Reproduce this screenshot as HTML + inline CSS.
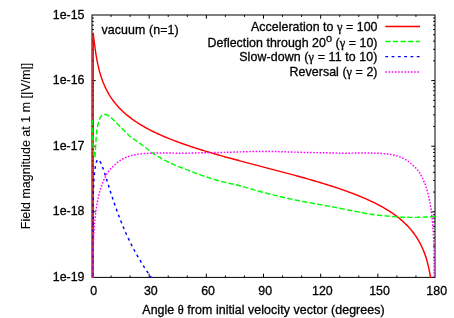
<!DOCTYPE html>
<html><head><meta charset="utf-8"><title>plot</title>
<style>
html,body{margin:0;padding:0;background:#fff;}
svg{display:block;will-change:transform;filter:blur(0.3px);}
text{font-family:"Liberation Sans",sans-serif;font-size:12.4px;fill:#000;stroke:#000;stroke-width:0.3px;}
.sy{font-family:"Liberation Serif",serif;}
.c{fill:none;stroke-width:1.45;stroke-linejoin:round;}
</style></head><body>
<svg width="454" height="318" viewBox="0 0 454 318">
<rect width="454" height="318" fill="#fff"/>
<defs><clipPath id="cp"><rect x="91.5" y="14.5" width="344.0" height="263.4"/></clipPath></defs>
<g stroke="#000" stroke-width="1" fill="none">
<rect x="92.0" y="15.0" width="343.0" height="262.4"/>
<path d="M92.0,60.85h1.9M435.0,60.85h-1.9"/>
<path d="M92.0,49.30h1.9M435.0,49.30h-1.9"/>
<path d="M92.0,41.10h1.9M435.0,41.10h-1.9"/>
<path d="M92.0,34.75h1.9M435.0,34.75h-1.9"/>
<path d="M92.0,29.55h1.9M435.0,29.55h-1.9"/>
<path d="M92.0,25.16h1.9M435.0,25.16h-1.9"/>
<path d="M92.0,21.36h1.9M435.0,21.36h-1.9"/>
<path d="M92.0,18.00h1.9M435.0,18.00h-1.9"/>
<path d="M92.0,80.60h3.7M435.0,80.60h-3.7"/>
<path d="M92.0,126.45h1.9M435.0,126.45h-1.9"/>
<path d="M92.0,114.90h1.9M435.0,114.90h-1.9"/>
<path d="M92.0,106.70h1.9M435.0,106.70h-1.9"/>
<path d="M92.0,100.35h1.9M435.0,100.35h-1.9"/>
<path d="M92.0,95.15h1.9M435.0,95.15h-1.9"/>
<path d="M92.0,90.76h1.9M435.0,90.76h-1.9"/>
<path d="M92.0,86.96h1.9M435.0,86.96h-1.9"/>
<path d="M92.0,83.60h1.9M435.0,83.60h-1.9"/>
<path d="M92.0,146.20h3.7M435.0,146.20h-3.7"/>
<path d="M92.0,192.05h1.9M435.0,192.05h-1.9"/>
<path d="M92.0,180.50h1.9M435.0,180.50h-1.9"/>
<path d="M92.0,172.30h1.9M435.0,172.30h-1.9"/>
<path d="M92.0,165.95h1.9M435.0,165.95h-1.9"/>
<path d="M92.0,160.75h1.9M435.0,160.75h-1.9"/>
<path d="M92.0,156.36h1.9M435.0,156.36h-1.9"/>
<path d="M92.0,152.56h1.9M435.0,152.56h-1.9"/>
<path d="M92.0,149.20h1.9M435.0,149.20h-1.9"/>
<path d="M92.0,211.80h3.7M435.0,211.80h-3.7"/>
<path d="M92.0,257.65h1.9M435.0,257.65h-1.9"/>
<path d="M92.0,246.10h1.9M435.0,246.10h-1.9"/>
<path d="M92.0,237.90h1.9M435.0,237.90h-1.9"/>
<path d="M92.0,231.55h1.9M435.0,231.55h-1.9"/>
<path d="M92.0,226.35h1.9M435.0,226.35h-1.9"/>
<path d="M92.0,221.96h1.9M435.0,221.96h-1.9"/>
<path d="M92.0,218.16h1.9M435.0,218.16h-1.9"/>
<path d="M92.0,214.80h1.9M435.0,214.80h-1.9"/>
<path d="M111.06,277.4v-1.9M111.06,15.0v1.9"/>
<path d="M130.11,277.4v-1.9M130.11,15.0v1.9"/>
<path d="M149.17,277.4v-3.7M149.17,15.0v3.7"/>
<path d="M168.22,277.4v-1.9M168.22,15.0v1.9"/>
<path d="M187.28,277.4v-1.9M187.28,15.0v1.9"/>
<path d="M206.33,277.4v-3.7M206.33,15.0v3.7"/>
<path d="M225.39,277.4v-1.9M225.39,15.0v1.9"/>
<path d="M244.44,277.4v-1.9M244.44,15.0v1.9"/>
<path d="M263.50,277.4v-3.7M263.50,15.0v3.7"/>
<path d="M282.56,277.4v-1.9M282.56,15.0v1.9"/>
<path d="M301.61,277.4v-1.9M301.61,15.0v1.9"/>
<path d="M320.67,277.4v-3.7M320.67,15.0v3.7"/>
<path d="M339.72,277.4v-1.9M339.72,15.0v1.9"/>
<path d="M358.78,277.4v-1.9M358.78,15.0v1.9"/>
<path d="M377.83,277.4v-3.7M377.83,15.0v3.7"/>
<path d="M396.89,277.4v-1.9M396.89,15.0v1.9"/>
<path d="M415.94,277.4v-1.9M415.94,15.0v1.9"/>
</g>
<g clip-path="url(#cp)">
<path class="c" stroke="#f00" d="M93.12,307.40 L93.20,33.30 L94.01,40.10 L94.96,47.45 L95.91,54.01 L96.86,59.58 L97.82,64.34 L98.77,68.47 L99.72,72.10 L100.67,75.34 L101.63,78.25 L102.58,80.91 L103.53,83.34 L104.49,85.59 L105.44,87.68 L106.39,89.62 L107.34,91.45 L108.30,93.16 L109.25,94.78 L110.20,96.32 L111.16,97.78 L112.11,99.17 L113.06,100.49 L114.01,101.76 L114.97,102.98 L115.92,104.14 L116.87,105.27 L117.82,106.35 L118.78,107.39 L119.73,108.40 L120.68,109.37 L121.64,110.31 L122.59,111.23 L123.54,112.11 L124.49,112.97 L125.45,113.81 L126.40,114.62 L127.35,115.42 L128.31,116.19 L129.26,116.94 L130.21,117.67 L131.16,118.39 L132.12,119.09 L133.07,119.78 L134.02,120.45 L134.97,121.10 L135.93,121.75 L136.88,122.37 L137.83,122.99 L138.79,123.60 L139.74,124.19 L140.69,124.77 L141.64,125.34 L142.60,125.91 L143.55,126.46 L144.50,127.00 L145.46,127.53 L146.41,128.06 L147.36,128.57 L148.31,129.08 L149.27,129.58 L150.22,130.08 L151.17,130.56 L152.12,131.04 L153.08,131.51 L154.03,131.98 L154.98,132.44 L155.94,132.89 L156.89,133.34 L157.84,133.78 L158.79,134.22 L159.75,134.65 L160.70,135.07 L161.65,135.49 L162.61,135.91 L163.56,136.32 L164.51,136.72 L165.46,137.13 L166.42,137.52 L167.37,137.92 L168.32,138.30 L169.27,138.69 L170.23,139.07 L171.18,139.45 L172.13,139.82 L173.09,140.19 L174.04,140.56 L174.99,140.92 L175.94,141.28 L176.90,141.63 L177.85,141.99 L178.80,142.34 L179.76,142.68 L180.71,143.03 L181.66,143.37 L182.61,143.71 L183.57,144.04 L184.52,144.38 L185.47,144.71 L186.42,145.04 L187.38,145.36 L188.33,145.68 L189.28,146.01 L190.24,146.32 L191.19,146.64 L192.14,146.96 L193.09,147.27 L194.05,147.58 L195.00,147.89 L195.95,148.19 L196.91,148.50 L197.86,148.80 L198.81,149.10 L199.76,149.40 L200.72,149.70 L201.67,149.99 L202.62,150.29 L203.57,150.58 L204.53,150.87 L205.48,151.16 L206.43,151.45 L207.39,151.73 L208.34,152.02 L209.29,152.30 L210.24,152.58 L211.20,152.86 L212.15,153.14 L213.10,153.42 L214.06,153.70 L215.01,153.98 L215.96,154.25 L216.91,154.52 L217.87,154.80 L218.82,155.07 L219.77,155.34 L220.72,155.61 L221.68,155.88 L222.63,156.14 L223.58,156.41 L224.54,156.68 L225.49,156.94 L226.44,157.21 L227.39,157.47 L228.35,157.73 L229.30,157.99 L230.25,158.25 L231.21,158.51 L232.16,158.77 L233.11,159.03 L234.06,159.29 L235.02,159.55 L235.97,159.81 L236.92,160.06 L237.88,160.32 L238.83,160.57 L239.78,160.83 L240.73,161.08 L241.69,161.34 L242.64,161.59 L243.59,161.84 L244.54,162.10 L245.50,162.35 L246.45,162.60 L247.40,162.85 L248.36,163.10 L249.31,163.35 L250.26,163.61 L251.21,163.86 L252.17,164.11 L253.12,164.36 L254.07,164.60 L255.02,164.85 L255.98,165.10 L256.93,165.35 L257.88,165.60 L258.84,165.85 L259.79,166.10 L260.74,166.35 L261.69,166.60 L262.65,166.85 L263.60,167.09 L264.55,167.34 L265.51,167.59 L266.46,167.84 L267.41,168.09 L268.36,168.34 L269.32,168.59 L270.27,168.84 L271.22,169.08 L272.17,169.33 L273.13,169.58 L274.08,169.83 L275.03,170.08 L275.99,170.33 L276.94,170.58 L277.89,170.83 L278.84,171.08 L279.80,171.34 L280.75,171.59 L281.70,171.84 L282.66,172.09 L283.61,172.34 L284.56,172.60 L285.51,172.85 L286.47,173.10 L287.42,173.36 L288.37,173.61 L289.32,173.87 L290.28,174.13 L291.23,174.38 L292.18,174.64 L293.14,174.90 L294.09,175.16 L295.04,175.41 L295.99,175.67 L296.95,175.93 L297.90,176.20 L298.85,176.46 L299.81,176.72 L300.76,176.98 L301.71,177.25 L302.66,177.51 L303.62,177.78 L304.57,178.04 L305.52,178.31 L306.48,178.58 L307.43,178.85 L308.38,179.12 L309.33,179.39 L310.29,179.67 L311.24,179.94 L312.19,180.21 L313.14,180.49 L314.10,180.77 L315.05,181.05 L316.00,181.33 L316.96,181.61 L317.91,181.89 L318.86,182.17 L319.81,182.46 L320.77,182.74 L321.72,183.03 L322.67,183.32 L323.62,183.61 L324.58,183.90 L325.53,184.20 L326.48,184.49 L327.44,184.79 L328.39,185.09 L329.34,185.39 L330.29,185.69 L331.25,186.00 L332.20,186.30 L333.15,186.61 L334.11,186.92 L335.06,187.23 L336.01,187.55 L336.96,187.87 L337.92,188.18 L338.87,188.51 L339.82,188.83 L340.77,189.15 L341.73,189.48 L342.68,189.81 L343.63,190.15 L344.59,190.48 L345.54,190.82 L346.49,191.16 L347.44,191.51 L348.40,191.85 L349.35,192.20 L350.30,192.56 L351.26,192.91 L352.21,193.27 L353.16,193.64 L354.11,194.00 L355.07,194.37 L356.02,194.74 L356.97,195.12 L357.92,195.50 L358.88,195.89 L359.83,196.28 L360.78,196.67 L361.74,197.07 L362.69,197.47 L363.64,197.87 L364.59,198.29 L365.55,198.70 L366.50,199.12 L367.45,199.55 L368.41,199.98 L369.36,200.41 L370.31,200.86 L371.26,201.30 L372.22,201.76 L373.17,202.22 L374.12,202.68 L375.07,203.15 L376.03,203.63 L376.98,204.12 L377.93,204.61 L378.89,205.11 L379.84,205.62 L380.79,206.14 L381.74,206.67 L382.70,207.20 L383.65,207.74 L384.60,208.29 L385.56,208.86 L386.51,209.43 L387.46,210.01 L388.41,210.61 L389.37,211.21 L390.32,211.83 L391.27,212.46 L392.23,213.10 L393.18,213.76 L394.13,214.43 L395.08,215.11 L396.04,215.82 L396.99,216.53 L397.94,217.27 L398.89,218.02 L399.85,218.80 L400.80,219.59 L401.75,220.41 L402.71,221.25 L403.66,222.11 L404.61,223.00 L405.56,223.91 L406.52,224.86 L407.47,225.84 L408.42,226.85 L409.38,227.89 L410.33,228.98 L411.28,230.10 L412.23,231.28 L413.19,232.50 L414.14,233.77 L415.09,235.10 L416.04,236.50 L417.00,237.97 L417.95,239.52 L418.90,241.15 L419.86,242.88 L420.81,244.73 L421.76,246.70 L422.71,248.82 L423.67,251.10 L424.62,253.58 L425.57,256.30 L426.52,259.31 L427.48,262.67 L428.43,266.47 L429.38,270.87 L430.34,276.06 L431.29,282.42 L432.24,290.62 L433.19,302.17 L434.05,307.40 L434.13,307.40"/>
<path class="c" stroke="#0f0" stroke-dasharray="5.3 2.3" d="M92.10,119.94 L93.05,146.00 L94.01,155.00 L94.96,157.50 L95.91,141.00 L96.86,130.42 L97.82,125.13 L98.77,121.35 L99.72,118.68 L100.67,116.84 L101.63,115.61 L102.58,114.87 L103.53,114.51 L104.49,114.44 L105.44,114.54 L106.39,114.79 L107.34,115.17 L108.30,115.65 L109.25,116.24 L110.20,116.92 L111.16,117.70 L112.11,118.57 L113.06,119.48 L114.01,120.41 L114.97,121.36 L115.92,122.32 L116.87,123.30 L117.82,124.28 L118.78,125.26 L119.73,126.24 L120.68,127.22 L121.64,128.19 L122.59,129.15 L123.54,130.10 L124.49,131.05 L125.45,131.99 L126.40,132.92 L127.35,133.85 L128.31,134.81 L129.26,135.78 L130.21,136.69 L131.16,137.47 L132.12,138.13 L133.07,138.73 L134.02,139.32 L134.97,139.94 L135.93,140.61 L136.88,141.27 L137.83,141.93 L138.79,142.57 L139.74,143.23 L140.69,143.89 L141.64,144.58 L142.60,145.29 L143.55,146.03 L144.50,146.78 L145.46,147.53 L146.41,148.29 L147.36,149.04 L148.31,149.79 L149.27,150.53 L150.22,151.25 L151.17,151.95 L152.12,152.63 L153.08,153.29 L154.03,153.93 L154.98,154.55 L155.94,155.16 L156.89,155.75 L157.84,156.33 L158.79,156.90 L159.75,157.45 L160.70,158.00 L161.65,158.53 L162.61,159.05 L163.56,159.56 L164.51,160.06 L165.46,160.55 L166.42,161.04 L167.37,161.51 L168.32,161.98 L169.27,162.43 L170.23,162.89 L171.18,163.33 L172.13,163.77 L173.09,164.20 L174.04,164.63 L174.99,165.06 L175.94,165.48 L176.90,165.88 L177.85,166.27 L178.80,166.64 L179.76,166.99 L180.71,167.35 L181.66,167.70 L182.61,168.06 L183.57,168.43 L184.52,168.81 L185.47,169.19 L186.42,169.57 L187.38,169.95 L188.33,170.33 L189.28,170.71 L190.24,171.08 L191.19,171.45 L192.14,171.83 L193.09,172.19 L194.05,172.56 L195.00,172.92 L195.95,173.28 L196.91,173.63 L197.86,173.98 L198.81,174.33 L199.76,174.67 L200.72,175.01 L201.67,175.34 L202.62,175.67 L203.57,175.99 L204.53,176.32 L205.48,176.64 L206.43,176.96 L207.39,177.28 L208.34,177.59 L209.29,177.90 L210.24,178.20 L211.20,178.51 L212.15,178.81 L213.10,179.10 L214.06,179.39 L215.01,179.68 L215.96,179.97 L216.91,180.25 L217.87,180.52 L218.82,180.79 L219.77,181.06 L220.72,181.32 L221.68,181.58 L222.63,181.83 L223.58,182.06 L224.54,182.29 L225.49,182.51 L226.44,182.72 L227.39,182.93 L228.35,183.13 L229.30,183.33 L230.25,183.53 L231.21,183.74 L232.16,183.94 L233.11,184.14 L234.06,184.35 L235.02,184.56 L235.97,184.78 L236.92,185.01 L237.88,185.24 L238.83,185.49 L239.78,185.74 L240.73,186.00 L241.69,186.27 L242.64,186.54 L243.59,186.81 L244.54,187.09 L245.50,187.36 L246.45,187.64 L247.40,187.92 L248.36,188.20 L249.31,188.47 L250.26,188.75 L251.21,189.03 L252.17,189.31 L253.12,189.59 L254.07,189.86 L255.02,190.14 L255.98,190.41 L256.93,190.68 L257.88,190.94 L258.84,191.20 L259.79,191.46 L260.74,191.72 L261.69,191.97 L262.65,192.22 L263.60,192.48 L264.55,192.73 L265.51,192.98 L266.46,193.22 L267.41,193.47 L268.36,193.71 L269.32,193.96 L270.27,194.20 L271.22,194.44 L272.17,194.68 L273.13,194.92 L274.08,195.16 L275.03,195.39 L275.99,195.62 L276.94,195.85 L277.89,196.08 L278.84,196.31 L279.80,196.54 L280.75,196.76 L281.70,196.98 L282.66,197.20 L283.61,197.42 L284.56,197.64 L285.51,197.85 L286.47,198.07 L287.42,198.28 L288.37,198.49 L289.32,198.70 L290.28,198.91 L291.23,199.11 L292.18,199.32 L293.14,199.52 L294.09,199.72 L295.04,199.92 L295.99,200.12 L296.95,200.32 L297.90,200.51 L298.85,200.71 L299.81,200.90 L300.76,201.09 L301.71,201.28 L302.66,201.47 L303.62,201.65 L304.57,201.83 L305.52,202.02 L306.48,202.20 L307.43,202.37 L308.38,202.55 L309.33,202.72 L310.29,202.90 L311.24,203.07 L312.19,203.24 L313.14,203.41 L314.10,203.58 L315.05,203.75 L316.00,203.92 L316.96,204.09 L317.91,204.26 L318.86,204.42 L319.81,204.59 L320.77,204.76 L321.72,204.93 L322.67,205.09 L323.62,205.26 L324.58,205.43 L325.53,205.59 L326.48,205.76 L327.44,205.93 L328.39,206.10 L329.34,206.27 L330.29,206.44 L331.25,206.61 L332.20,206.79 L333.15,206.96 L334.11,207.14 L335.06,207.33 L336.01,207.51 L336.96,207.70 L337.92,207.89 L338.87,208.09 L339.82,208.28 L340.77,208.47 L341.73,208.67 L342.68,208.87 L343.63,209.06 L344.59,209.26 L345.54,209.45 L346.49,209.65 L347.44,209.84 L348.40,210.04 L349.35,210.23 L350.30,210.41 L351.26,210.60 L352.21,210.78 L353.16,210.96 L354.11,211.15 L355.07,211.33 L356.02,211.52 L356.97,211.71 L357.92,211.90 L358.88,212.08 L359.83,212.27 L360.78,212.46 L361.74,212.64 L362.69,212.82 L363.64,213.00 L364.59,213.18 L365.55,213.35 L366.50,213.52 L367.45,213.68 L368.41,213.84 L369.36,213.99 L370.31,214.14 L371.26,214.28 L372.22,214.41 L373.17,214.54 L374.12,214.66 L375.07,214.78 L376.03,214.89 L376.98,215.00 L377.93,215.11 L378.89,215.22 L379.84,215.32 L380.79,215.42 L381.74,215.52 L382.70,215.61 L383.65,215.70 L384.60,215.79 L385.56,215.88 L386.51,215.97 L387.46,216.05 L388.41,216.14 L389.37,216.22 L390.32,216.30 L391.27,216.38 L392.23,216.45 L393.18,216.53 L394.13,216.61 L395.08,216.69 L396.04,216.77 L396.99,216.85 L397.94,216.92 L398.89,216.99 L399.85,217.05 L400.80,217.11 L401.75,217.16 L402.71,217.19 L403.66,217.22 L404.61,217.25 L405.56,217.28 L406.52,217.30 L407.47,217.32 L408.42,217.34 L409.38,217.36 L410.33,217.37 L411.28,217.38 L412.23,217.39 L413.19,217.40 L414.14,217.40 L415.09,217.39 L416.04,217.38 L417.00,217.35 L417.95,217.33 L418.90,217.29 L419.86,217.26 L420.81,217.22 L421.76,217.19 L422.71,217.15 L423.67,217.11 L424.62,217.08 L425.57,217.04 L426.52,217.00 L427.48,216.97 L428.43,216.93 L429.38,216.89 L430.34,216.84 L431.29,216.80 L432.24,216.75 L433.19,216.71 L434.15,216.66 L435.10,216.61"/>
<path class="c" stroke="#00f" stroke-dasharray="2.8 3.5" d="M93.12,307.40 L93.20,196.16 L94.01,177.82 L94.96,168.52 L95.91,163.35 L96.86,160.65 L97.82,159.63 L98.77,159.80 L99.72,160.84 L100.67,162.52 L101.63,164.67 L102.58,167.14 L103.53,169.86 L104.49,172.73 L105.44,175.70 L106.39,178.74 L107.34,181.80 L108.30,184.86 L109.25,187.90 L110.20,190.92 L111.16,193.90 L112.11,196.83 L113.06,199.71 L114.01,202.53 L114.97,205.30 L115.92,208.01 L116.87,210.67 L117.82,213.26 L118.78,215.80 L119.73,218.28 L120.68,220.71 L121.64,223.09 L122.59,225.41 L123.54,227.68 L124.49,229.90 L125.45,232.07 L126.40,234.20 L127.35,236.28 L128.31,238.32 L129.26,240.32 L130.21,242.28 L131.16,244.20 L132.12,246.08 L133.07,247.92 L134.02,249.73 L134.97,251.50 L135.93,253.24 L136.88,254.95 L137.83,256.63 L138.79,258.28 L139.74,259.90 L140.69,261.49 L141.64,263.05 L142.60,264.59 L143.55,266.10 L144.50,267.59 L145.46,269.05 L146.41,270.49 L147.36,271.91 L148.31,273.30 L149.27,274.68 L150.22,276.03 L151.17,277.36 L152.12,278.68 L153.08,279.97 L154.03,281.25 L154.98,282.51 L155.94,283.75 L156.89,284.97 L157.84,286.18 L158.79,287.37 L159.75,288.54 L160.70,289.70 L161.65,290.85 L162.61,291.98 L163.56,293.09 L164.51,294.20 L165.46,295.28 L166.42,296.36 L167.37,297.42 L168.32,298.47 L169.27,299.51 L170.23,300.53 L171.18,301.55 L172.13,302.55 L173.09,303.54 L174.04,304.52 L174.99,305.49 L175.94,306.45 L176.90,307.40 L177.85,307.40 L178.80,307.40 L179.76,307.40 L180.71,307.40 L181.66,307.40 L182.61,307.40 L183.57,307.40 L184.52,307.40 L185.47,307.40 L186.42,307.40 L187.38,307.40 L188.33,307.40 L189.28,307.40 L190.24,307.40 L191.19,307.40 L192.14,307.40 L193.09,307.40 L194.05,307.40 L195.00,307.40 L195.95,307.40 L196.91,307.40 L197.86,307.40 L198.81,307.40 L199.76,307.40 L200.72,307.40 L201.67,307.40 L202.62,307.40 L203.57,307.40 L204.53,307.40 L205.48,307.40 L206.43,307.40 L207.39,307.40 L208.34,307.40 L209.29,307.40 L210.24,307.40 L211.20,307.40 L212.15,307.40 L213.10,307.40 L214.06,307.40 L215.01,307.40 L215.96,307.40 L216.91,307.40 L217.87,307.40 L218.82,307.40 L219.77,307.40 L220.72,307.40 L221.68,307.40 L222.63,307.40 L223.58,307.40 L224.54,307.40 L225.49,307.40 L226.44,307.40 L227.39,307.40 L228.35,307.40 L229.30,307.40 L230.25,307.40 L231.21,307.40 L232.16,307.40 L233.11,307.40 L234.06,307.40 L235.02,307.40 L235.97,307.40 L236.92,307.40 L237.88,307.40 L238.83,307.40 L239.78,307.40 L240.73,307.40 L241.69,307.40 L242.64,307.40 L243.59,307.40 L244.54,307.40 L245.50,307.40 L246.45,307.40 L247.40,307.40 L248.36,307.40 L249.31,307.40 L250.26,307.40 L251.21,307.40 L252.17,307.40 L253.12,307.40 L254.07,307.40 L255.02,307.40 L255.98,307.40 L256.93,307.40 L257.88,307.40 L258.84,307.40 L259.79,307.40 L260.74,307.40 L261.69,307.40 L262.65,307.40 L263.60,307.40 L264.55,307.40 L265.51,307.40 L266.46,307.40 L267.41,307.40 L268.36,307.40 L269.32,307.40 L270.27,307.40 L271.22,307.40 L272.17,307.40 L273.13,307.40 L274.08,307.40 L275.03,307.40 L275.99,307.40 L276.94,307.40 L277.89,307.40 L278.84,307.40 L279.80,307.40 L280.75,307.40 L281.70,307.40 L282.66,307.40 L283.61,307.40 L284.56,307.40 L285.51,307.40 L286.47,307.40 L287.42,307.40 L288.37,307.40 L289.32,307.40 L290.28,307.40 L291.23,307.40 L292.18,307.40 L293.14,307.40 L294.09,307.40 L295.04,307.40 L295.99,307.40 L296.95,307.40 L297.90,307.40 L298.85,307.40 L299.81,307.40 L300.76,307.40 L301.71,307.40 L302.66,307.40 L303.62,307.40 L304.57,307.40 L305.52,307.40 L306.48,307.40 L307.43,307.40 L308.38,307.40 L309.33,307.40 L310.29,307.40 L311.24,307.40 L312.19,307.40 L313.14,307.40 L314.10,307.40 L315.05,307.40 L316.00,307.40 L316.96,307.40 L317.91,307.40 L318.86,307.40 L319.81,307.40 L320.77,307.40 L321.72,307.40 L322.67,307.40 L323.62,307.40 L324.58,307.40 L325.53,307.40 L326.48,307.40 L327.44,307.40 L328.39,307.40 L329.34,307.40 L330.29,307.40 L331.25,307.40 L332.20,307.40 L333.15,307.40 L334.11,307.40 L335.06,307.40 L336.01,307.40 L336.96,307.40 L337.92,307.40 L338.87,307.40 L339.82,307.40 L340.77,307.40 L341.73,307.40 L342.68,307.40 L343.63,307.40 L344.59,307.40 L345.54,307.40 L346.49,307.40 L347.44,307.40 L348.40,307.40 L349.35,307.40 L350.30,307.40 L351.26,307.40 L352.21,307.40 L353.16,307.40 L354.11,307.40 L355.07,307.40 L356.02,307.40 L356.97,307.40 L357.92,307.40 L358.88,307.40 L359.83,307.40 L360.78,307.40 L361.74,307.40 L362.69,307.40 L363.64,307.40 L364.59,307.40 L365.55,307.40 L366.50,307.40 L367.45,307.40 L368.41,307.40 L369.36,307.40 L370.31,307.40 L371.26,307.40 L372.22,307.40 L373.17,307.40 L374.12,307.40 L375.07,307.40 L376.03,307.40 L376.98,307.40 L377.93,307.40 L378.89,307.40 L379.84,307.40 L380.79,307.40 L381.74,307.40 L382.70,307.40 L383.65,307.40 L384.60,307.40 L385.56,307.40 L386.51,307.40 L387.46,307.40 L388.41,307.40 L389.37,307.40 L390.32,307.40 L391.27,307.40 L392.23,307.40 L393.18,307.40 L394.13,307.40 L395.08,307.40 L396.04,307.40 L396.99,307.40 L397.94,307.40 L398.89,307.40 L399.85,307.40 L400.80,307.40 L401.75,307.40 L402.71,307.40 L403.66,307.40 L404.61,307.40 L405.56,307.40 L406.52,307.40 L407.47,307.40 L408.42,307.40 L409.38,307.40 L410.33,307.40 L411.28,307.40 L412.23,307.40 L413.19,307.40 L414.14,307.40 L415.09,307.40 L416.04,307.40 L417.00,307.40 L417.95,307.40 L418.90,307.40 L419.86,307.40 L420.81,307.40 L421.76,307.40 L422.71,307.40 L423.67,307.40 L424.62,307.40 L425.57,307.40 L426.52,307.40 L427.48,307.40 L428.43,307.40 L429.38,307.40 L430.34,307.40 L431.29,307.40 L432.24,307.40 L433.19,307.40 L434.05,307.40 L434.13,307.40"/>
<path class="c" stroke="#f0f" stroke-dasharray="1.6 1.6" d="M93.12,307.40 L93.20,250.10 L94.01,230.43 L94.96,218.96 L95.91,210.87 L96.86,204.62 L97.82,199.54 L98.77,195.28 L99.72,191.62 L100.67,188.41 L101.63,185.57 L102.58,183.02 L103.53,180.71 L104.49,178.61 L105.44,176.69 L106.39,174.92 L107.34,173.30 L108.30,171.80 L109.25,170.46 L110.20,169.29 L111.16,168.26 L112.11,167.31 L113.06,166.41 L114.01,165.52 L114.97,164.61 L115.92,163.75 L116.87,162.93 L117.82,162.17 L118.78,161.45 L119.73,160.78 L120.68,160.15 L121.64,159.56 L122.59,159.01 L123.54,158.50 L124.49,158.03 L125.45,157.60 L126.40,157.21 L127.35,156.85 L128.31,156.51 L129.26,156.21 L130.21,155.92 L131.16,155.66 L132.12,155.42 L133.07,155.19 L134.02,154.98 L134.97,154.77 L135.93,154.59 L136.88,154.42 L137.83,154.27 L138.79,154.13 L139.74,154.01 L140.69,153.89 L141.64,153.80 L142.60,153.71 L143.55,153.63 L144.50,153.56 L145.46,153.49 L146.41,153.44 L147.36,153.38 L148.31,153.34 L149.27,153.30 L150.22,153.26 L151.17,153.22 L152.12,153.19 L153.08,153.15 L154.03,153.12 L154.98,153.09 L155.94,153.07 L156.89,153.05 L157.84,153.03 L158.79,153.02 L159.75,153.01 L160.70,153.00 L161.65,153.00 L162.61,152.99 L163.56,153.00 L164.51,153.00 L165.46,153.00 L166.42,153.01 L167.37,153.02 L168.32,153.03 L169.27,153.04 L170.23,153.06 L171.18,153.07 L172.13,153.09 L173.09,153.11 L174.04,153.13 L174.99,153.15 L175.94,153.17 L176.90,153.19 L177.85,153.21 L178.80,153.22 L179.76,153.23 L180.71,153.23 L181.66,153.23 L182.61,153.23 L183.57,153.23 L184.52,153.22 L185.47,153.20 L186.42,153.19 L187.38,153.17 L188.33,153.15 L189.28,153.13 L190.24,153.11 L191.19,153.08 L192.14,153.06 L193.09,153.03 L194.05,153.00 L195.00,152.98 L195.95,152.95 L196.91,152.92 L197.86,152.89 L198.81,152.86 L199.76,152.83 L200.72,152.81 L201.67,152.78 L202.62,152.76 L203.57,152.73 L204.53,152.71 L205.48,152.69 L206.43,152.67 L207.39,152.66 L208.34,152.64 L209.29,152.63 L210.24,152.62 L211.20,152.62 L212.15,152.61 L213.10,152.60 L214.06,152.58 L215.01,152.57 L215.96,152.55 L216.91,152.54 L217.87,152.52 L218.82,152.50 L219.77,152.48 L220.72,152.46 L221.68,152.43 L222.63,152.41 L223.58,152.39 L224.54,152.36 L225.49,152.33 L226.44,152.31 L227.39,152.28 L228.35,152.25 L229.30,152.22 L230.25,152.19 L231.21,152.16 L232.16,152.14 L233.11,152.11 L234.06,152.08 L235.02,152.05 L235.97,152.02 L236.92,151.99 L237.88,151.96 L238.83,151.93 L239.78,151.90 L240.73,151.87 L241.69,151.84 L242.64,151.81 L243.59,151.78 L244.54,151.76 L245.50,151.73 L246.45,151.70 L247.40,151.68 L248.36,151.66 L249.31,151.63 L250.26,151.61 L251.21,151.59 L252.17,151.57 L253.12,151.55 L254.07,151.53 L255.02,151.52 L255.98,151.50 L256.93,151.49 L257.88,151.48 L258.84,151.47 L259.79,151.46 L260.74,151.45 L261.69,151.45 L262.65,151.44 L263.60,151.44 L264.55,151.44 L265.51,151.45 L266.46,151.45 L267.41,151.46 L268.36,151.47 L269.32,151.48 L270.27,151.49 L271.22,151.50 L272.17,151.52 L273.13,151.53 L274.08,151.55 L275.03,151.57 L275.99,151.59 L276.94,151.61 L277.89,151.63 L278.84,151.66 L279.80,151.68 L280.75,151.70 L281.70,151.73 L282.66,151.76 L283.61,151.78 L284.56,151.81 L285.51,151.84 L286.47,151.87 L287.42,151.90 L288.37,151.93 L289.32,151.96 L290.28,151.99 L291.23,152.02 L292.18,152.05 L293.14,152.08 L294.09,152.11 L295.04,152.14 L295.99,152.16 L296.95,152.19 L297.90,152.22 L298.85,152.25 L299.81,152.28 L300.76,152.31 L301.71,152.33 L302.66,152.36 L303.62,152.39 L304.57,152.41 L305.52,152.43 L306.48,152.46 L307.43,152.48 L308.38,152.50 L309.33,152.52 L310.29,152.54 L311.24,152.55 L312.19,152.57 L313.14,152.58 L314.10,152.60 L315.05,152.61 L316.00,152.62 L316.96,152.62 L317.91,152.63 L318.86,152.64 L319.81,152.66 L320.77,152.67 L321.72,152.69 L322.67,152.71 L323.62,152.73 L324.58,152.76 L325.53,152.78 L326.48,152.81 L327.44,152.83 L328.39,152.86 L329.34,152.89 L330.29,152.92 L331.25,152.95 L332.20,152.98 L333.15,153.00 L334.11,153.03 L335.06,153.06 L336.01,153.08 L336.96,153.11 L337.92,153.13 L338.87,153.15 L339.82,153.17 L340.77,153.19 L341.73,153.20 L342.68,153.22 L343.63,153.23 L344.59,153.23 L345.54,153.23 L346.49,153.23 L347.44,153.23 L348.40,153.22 L349.35,153.21 L350.30,153.19 L351.26,153.17 L352.21,153.15 L353.16,153.13 L354.11,153.11 L355.07,153.09 L356.02,153.07 L356.97,153.06 L357.92,153.04 L358.88,153.03 L359.83,153.02 L360.78,153.01 L361.74,153.00 L362.69,153.00 L363.64,153.00 L364.59,152.99 L365.55,153.00 L366.50,153.00 L367.45,153.01 L368.41,153.02 L369.36,153.03 L370.31,153.05 L371.26,153.07 L372.22,153.09 L373.17,153.12 L374.12,153.15 L375.07,153.19 L376.03,153.22 L376.98,153.26 L377.93,153.30 L378.89,153.34 L379.84,153.38 L380.79,153.44 L381.74,153.49 L382.70,153.56 L383.65,153.63 L384.60,153.71 L385.56,153.80 L386.51,153.89 L387.46,154.01 L388.41,154.13 L389.37,154.27 L390.32,154.42 L391.27,154.59 L392.23,154.77 L393.18,154.98 L394.13,155.19 L395.08,155.42 L396.04,155.66 L396.99,155.92 L397.94,156.21 L398.89,156.51 L399.85,156.85 L400.80,157.21 L401.75,157.60 L402.71,158.03 L403.66,158.50 L404.61,159.01 L405.56,159.56 L406.52,160.15 L407.47,160.78 L408.42,161.45 L409.38,162.17 L410.33,162.93 L411.28,163.75 L412.23,164.61 L413.19,165.52 L414.14,166.41 L415.09,167.31 L416.04,168.26 L417.00,169.29 L417.95,170.46 L418.90,171.80 L419.86,173.30 L420.81,174.92 L421.76,176.69 L422.71,178.61 L423.67,180.71 L424.62,183.02 L425.57,185.57 L426.52,188.41 L427.48,191.62 L428.43,195.28 L429.38,199.54 L430.34,204.62 L431.29,210.87 L432.24,218.96 L433.19,230.43 L434.05,250.10 L434.13,307.40"/>
</g>
<g>
<text x="84.45" y="18.60" text-anchor="end">1e-15</text><text x="84.45" y="84.20" text-anchor="end">1e-16</text><text x="84.45" y="149.80" text-anchor="end">1e-17</text><text x="84.45" y="215.40" text-anchor="end">1e-18</text><text x="84.45" y="281.00" text-anchor="end">1e-19</text>
<text x="93.70" y="294.6" text-anchor="middle">0</text><text x="150.87" y="294.6" text-anchor="middle">30</text><text x="208.03" y="294.6" text-anchor="middle">60</text><text x="265.20" y="294.6" text-anchor="middle">90</text><text x="322.37" y="294.6" text-anchor="middle">120</text><text x="379.53" y="294.6" text-anchor="middle">150</text><text x="436.70" y="294.6" text-anchor="middle">180</text>
<text x="263.5" y="313.5" text-anchor="middle" letter-spacing="0.064">Angle <tspan class="sy">&#952;</tspan> from initial velocity vector (degrees)</text>
<text transform="translate(30.4,145.9) rotate(-90)" text-anchor="middle" letter-spacing="0.055" style="stroke-width:0.1px">Field magnitude at 1 m [|V/m|]</text>
<text x="101.6" y="33.9" letter-spacing="0.08">vacuum (n=1)</text>
<text x="377.5" y="31.0" text-anchor="end" letter-spacing="0.035">Acceleration to <tspan class="sy">&#947;</tspan> = 100</text>
<text x="377.5" y="47.2" text-anchor="end" letter-spacing="0.03">Deflection through 20<tspan dy="-5.5" font-size="11">o</tspan><tspan dy="5.5"> (<tspan class="sy">&#947;</tspan> = 10)</tspan></text>
<text x="377.5" y="60.9" text-anchor="end" letter-spacing="0.105">Slow-down (<tspan class="sy">&#947;</tspan> = 11 to 10)</text>
<text x="377.5" y="76.1" text-anchor="end" letter-spacing="0.05">Reversal (<tspan class="sy">&#947;</tspan> = 2)</text>
</g>
<g class="c">
<path stroke="#f00" d="M385.3,26.4H420"/>
<path stroke="#0f0" stroke-dasharray="5.3 2.3" d="M385.3,41.5H420"/>
<path stroke="#00f" stroke-dasharray="2.8 3.5" d="M385.3,56.6H420"/>
<path stroke="#f0f" stroke-dasharray="1.6 1.6" d="M385.3,71.9H420"/>
</g>
</svg>
</body></html>
